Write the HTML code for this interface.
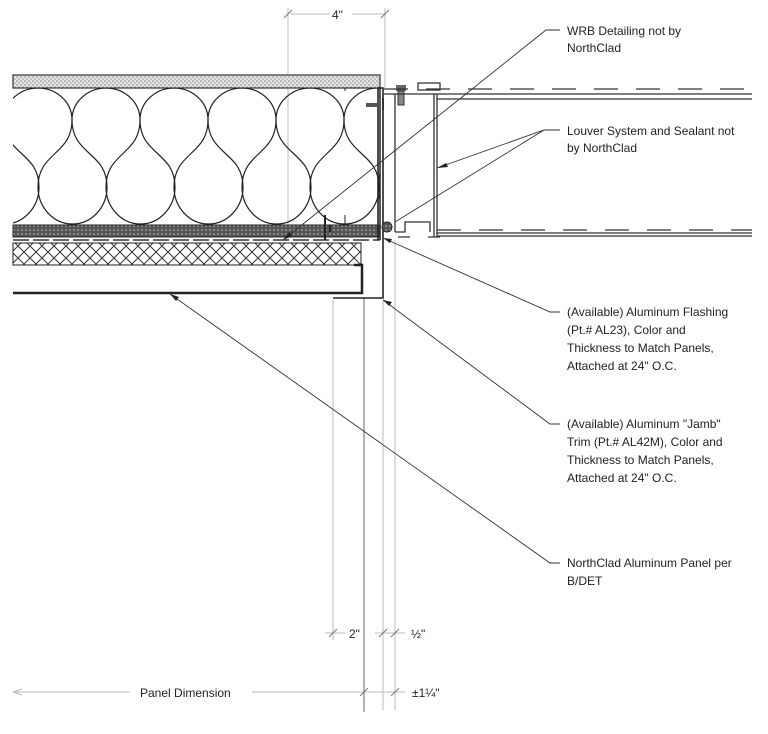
<!DOCTYPE html>
<html><head><meta charset="utf-8"><style>
html,body{margin:0;padding:0;background:#fff;}
svg{display:block;}
text{font-family:"Liberation Sans",Arial,sans-serif;font-size:12px;fill:#222;}
</style></head><body>
<svg width="768" height="734" viewBox="0 0 768 734" xmlns="http://www.w3.org/2000/svg">
<defs>
<pattern id="dots" width="4" height="4" patternUnits="userSpaceOnUse"><rect width="4" height="4" fill="#e4e4e4"/><circle cx="1" cy="1" r="0.8" fill="#888"/><circle cx="3" cy="3" r="0.8" fill="#999"/></pattern>
<pattern id="xh" width="12" height="12" patternUnits="userSpaceOnUse"><path d="M0,0L12,12M12,0L0,12" stroke="#333" stroke-width="1"/></pattern>
<pattern id="dk" width="4" height="4" patternUnits="userSpaceOnUse"><rect width="4" height="4" fill="#555"/><circle cx="2" cy="2" r="1" fill="#999"/></pattern>
<clipPath id="ins"><rect x="13" y="88" width="367" height="138"/></clipPath>
<g id="unit" fill="none" stroke="#222" stroke-width="1.2">
<path d="M4,120 A34,32 0 0 1 72,120"/>
<path d="M38,187 A34.5,37 0 0 0 107,187"/>
<path d="M72,120 C72,155 38,152 38,187"/>
<path d="M72,120 C72,155 107,152 107,187"/>
</g>
</defs>

<!-- dimension extension lines (light) -->
<g stroke="#bbb" stroke-width="1">
<line x1="288" y1="8" x2="288" y2="240"/>
<line x1="385" y1="8" x2="385" y2="88"/>
<line x1="333" y1="300" x2="333" y2="640"/>
<line x1="383" y1="300" x2="383" y2="710"/>
<line x1="395" y1="240" x2="395" y2="710"/>
<line x1="290" y1="14" x2="330" y2="14"/><line x1="352" y1="14" x2="385" y2="14"/>
<line x1="325" y1="633" x2="345" y2="633"/><line x1="375" y1="633" x2="405" y2="633"/>
<line x1="13" y1="692" x2="130" y2="692"/><line x1="252" y1="692" x2="405" y2="692"/>
<line x1="13" y1="692" x2="22" y2="689"/><line x1="13" y1="692" x2="22" y2="695"/>
</g>
<g stroke="#777" stroke-width="1">
<line x1="284" y1="18" x2="292" y2="10"/><line x1="381" y1="18" x2="389" y2="10"/>
<line x1="329" y1="637" x2="337" y2="629"/><line x1="379" y1="637" x2="387" y2="629"/><line x1="391" y1="637" x2="399" y2="629"/>
<line x1="360" y1="696" x2="368" y2="688"/><line x1="391" y1="696" x2="399" y2="688"/>
</g>
<line x1="364" y1="298" x2="364" y2="712" stroke="#666" stroke-width="1"/>
<text x="332" y="19">4"</text>
<text x="349" y="638">2"</text>
<text x="411" y="638">½"</text>
<text x="140" y="697">Panel Dimension</text>
<text x="412" y="697">±1¼"</text>

<!-- wall -->
<rect x="13" y="75" width="367" height="13" fill="url(#dots)" stroke="#333" stroke-width="1.2"/>
<g clip-path="url(#ins)">
<use href="#unit" x="-68"/><use href="#unit" x="0"/><use href="#unit" x="68"/><use href="#unit" x="136"/><use href="#unit" x="204"/><use href="#unit" x="272"/><use href="#unit" x="340"/>
</g>
<rect x="13" y="225" width="367" height="12" fill="url(#dk)" stroke="#222"/>
<line x1="13" y1="240" x2="380" y2="240" stroke="#333" stroke-width="1.5" stroke-dasharray="16,4"/>
<rect x="13" y="243" width="348" height="22" fill="url(#xh)" stroke="#222"/>
<line x1="13" y1="265" x2="361" y2="265" stroke="#222"/>
<!-- panel -->
<path d="M13,293 H362 V265 H354" fill="none" stroke="#222" stroke-width="2.5"/>
<path d="M333,298 H383 V88 H378 V240" fill="none" stroke="#222" stroke-width="1.6"/>
<line x1="380" y1="88" x2="380" y2="240" stroke="#222" stroke-width="1.5"/>
<path d="M345,91 V88 H360 M345,225 V215" fill="none" stroke="#222"/>
<path d="M325,240 V215 M330,225 V232" stroke="#222" stroke-width="2"/>
<!-- fasteners -->
<rect x="366" y="103" width="12" height="4" fill="#555"/><rect x="382" y="98" width="2" height="12" fill="#333"/>
<rect x="396" y="85" width="10" height="6" fill="#666"/><rect x="398" y="91" width="6" height="14" fill="#888" stroke="#333"/>
<circle cx="387" cy="227" r="5" fill="url(#dk)" stroke="#222"/>
<!-- louver frame -->
<g fill="none" stroke="#333" stroke-width="1.3">
<line x1="384" y1="89" x2="752" y2="89" stroke-dasharray="24,18"/>
<line x1="384" y1="94" x2="752" y2="94"/>
<line x1="437" y1="99" x2="752" y2="99"/>
<line x1="395" y1="94" x2="395" y2="232"/>
<line x1="437" y1="94" x2="437" y2="237"/>
<line x1="434" y1="94" x2="434" y2="237"/>
<rect x="418" y="83" width="22" height="7"/>
<path d="M395,232 H405 V222 H430 V232"/>
<path d="M398,237 H410 M428,237 H440"/>
<line x1="437" y1="230" x2="752" y2="230" stroke-dasharray="24,18"/>
<line x1="437" y1="233" x2="752" y2="233"/>
<line x1="437" y1="236" x2="752" y2="236"/>
</g>

<!-- leaders -->
<g fill="none" stroke="#333" stroke-width="0.9">
<path d="M560,30 H546 L283,240"/>
<path d="M560,130 H544 L437,168 M544,130 L395,222"/>
<path d="M560,312 H550 L383,238"/>
<path d="M560,424 H550 L383,300"/>
<path d="M560,563 H550 L170,294"/>
</g>
<g fill="#222">
<path d="M283,240 l9,-4 l-3,-4z"/>
<path d="M437,168 l9,-5 l2,4z"/>
<path d="M383,238 l9,1 l-2,4z"/>
<path d="M383,300 l9,2 l-3,4z"/>
<path d="M170,294 l9,3 l-3,4z"/>
</g>

<text x="567" y="35">WRB Detailing not by</text>
<text x="567" y="52">NorthClad</text>
<text x="567" y="135">Louver System and Sealant not</text>
<text x="567" y="152">by NorthClad</text>
<text x="567" y="316">(Available) Aluminum Flashing</text>
<text x="567" y="334">(Pt.# AL23), Color and</text>
<text x="567" y="352">Thickness to Match Panels,</text>
<text x="567" y="370">Attached at 24" O.C.</text>
<text x="567" y="428">(Available) Aluminum "Jamb"</text>
<text x="567" y="446">Trim (Pt.# AL42M), Color and</text>
<text x="567" y="464">Thickness to Match Panels,</text>
<text x="567" y="482">Attached at 24" O.C.</text>
<text x="567" y="567">NorthClad Aluminum Panel per</text>
<text x="567" y="585">B/DET</text>
</svg>
</body></html>
